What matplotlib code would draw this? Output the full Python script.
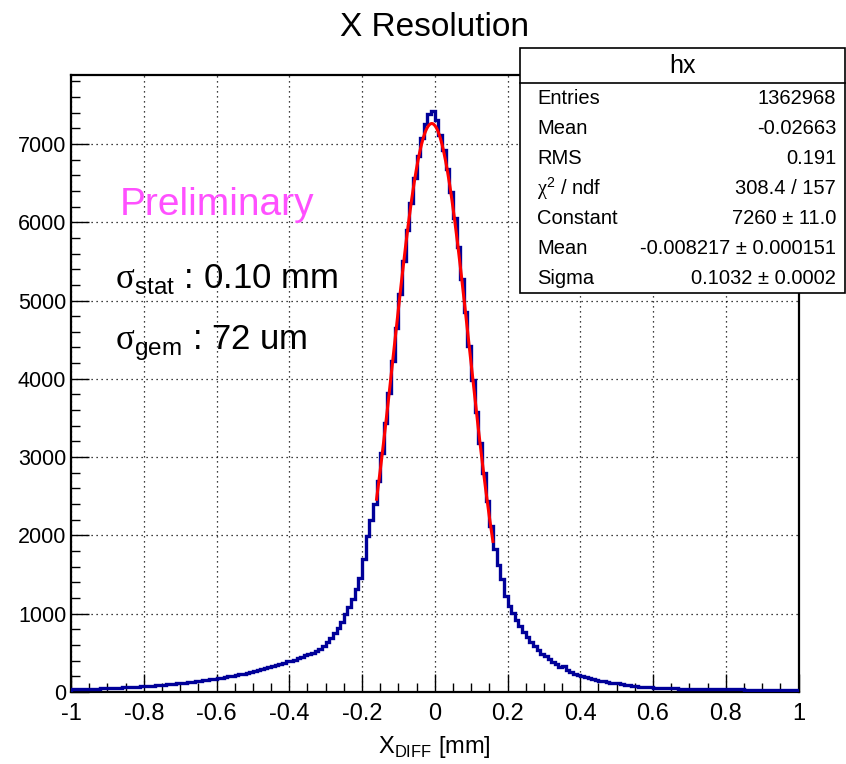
import numpy as np
import matplotlib
matplotlib.use("Agg")
import matplotlib.pyplot as plt
from matplotlib.ticker import MultipleLocator, FuncFormatter
from matplotlib.patches import Rectangle
from matplotlib.lines import Line2D

plt.rcParams['font.family'] = ['Liberation Sans', 'DejaVu Sans']
plt.rcParams['mathtext.fontset'] = 'custom'
plt.rcParams['mathtext.rm'] = 'Liberation Serif'
plt.rcParams['mathtext.sf'] = 'Liberation Sans'

# histogram hx, 0.01 wide bins from -1 to 1
x_lo, x_hi, n_bins = -1.0, 1.0, 200
counts = [
    32, 34, 35, 37, 38, 40, 42, 43, 45, 47,
    49, 51, 53, 56, 58, 61, 64, 67, 70, 73,
    76, 79, 82, 86, 90, 93, 97, 101, 106, 110,
    115, 120, 125, 130, 135, 141, 147, 153, 160, 167,
    175, 182, 190, 198, 206, 215, 224, 234, 245, 256,
    268, 280, 292, 305, 318, 330, 343, 357, 372, 400,
    395, 415, 432, 452, 475, 482, 500, 525, 555, 590,
    640, 690, 750, 820, 900, 990, 1080, 1190, 1310, 1450,
    1700, 1990, 2200, 2400, 2700, 3050, 3430, 3820, 4230, 4650,
    5080, 5500, 5900, 6250, 6570, 6850, 7080, 7250, 7380, 7420,
    7300, 7120, 6920, 6680, 6380, 6050, 5680, 5280, 4850, 4420,
    3990, 3580, 3180, 2800, 2440, 2120, 1830, 1620, 1440, 1230,
    1100, 1010, 920, 840, 770, 700, 640, 585, 535, 490,
    455, 420, 385, 355, 325, 330, 280, 255, 235, 215,
    200, 188, 176, 172, 155, 145, 136, 127, 118, 110,
    118, 96, 90, 84, 78, 73, 69, 65, 62, 59,
    56, 54, 52, 50, 48, 47, 45, 44, 43, 42,
    41, 40, 39, 38, 37, 37, 36, 35, 35, 34,
    34, 33, 33, 32, 32, 31, 31, 30, 30, 30,
    29, 29, 29, 28, 28, 28, 27, 27, 27, 26,
]

# gaus fit result
fit_const, fit_mean, fit_sigma = 7260, -0.008217, 0.1032
fit_lo, fit_hi = -0.16, 0.16

stat_name = 'hx'
stat_labels = ['Entries', 'Mean', 'RMS', r'$\mathrm{\chi}^{\mathsf{2}}$ / ndf',
               'Constant', 'Mean', 'Sigma']
stat_values = ['1362968', '-0.02663', '0.191', '308.4 / 157',
               '7260 ± 11.0', '-0.008217 ± 0.000151', '0.1032 ± 0.0002']

W, H = 846, 764
fig = plt.figure(figsize=(W / 100, H / 100), dpi=100)
ax = fig.add_axes([71 / W, 1 - 692 / H, (798.5 - 71) / W, (692 - 75) / H])

edges = np.linspace(x_lo, x_hi, n_bins + 1)
ax.stairs(counts, edges, color='#000099', lw=2.4, zorder=3)

xf = np.linspace(fit_lo, fit_hi, 200)
ax.plot(xf, fit_const * np.exp(-0.5 * ((xf - fit_mean) / fit_sigma) ** 2),
        color='#ff0000', lw=2.2, zorder=4)

ax.set_xlim(x_lo, x_hi)
ax.set_ylim(0, 7880)
ax.xaxis.set_major_locator(MultipleLocator(0.2))
ax.xaxis.set_minor_locator(MultipleLocator(0.05))
ax.yaxis.set_major_locator(MultipleLocator(1000))
ax.yaxis.set_minor_locator(MultipleLocator(200))
ax.xaxis.set_major_formatter(FuncFormatter(lambda v, p: f'{v:g}' if abs(v) > 1e-9 else '0'))
ax.yaxis.set_major_formatter(FuncFormatter(lambda v, p: f'{v:.0f}'))
ax.tick_params(which='both', direction='in', top=False, right=False, width=1, colors='black')
ax.tick_params(which='major', length=13)
ax.tick_params(which='minor', length=6.5)
ax.tick_params(axis='x', which='major', labelsize=17, pad=8)
ax.tick_params(axis='y', which='major', labelsize=15.5, pad=3.5)
ax.grid(True, which='major', ls=(0, (1, 3)), color='black', lw=0.9)
for s in ax.spines.values():
    s.set_linewidth(1.6)
ax.set_axisbelow(True)

ax.set_xlabel(r'X$_{\mathsf{DIFF}}$ [mm]', fontsize=17, labelpad=6.5)

fig.text(434.5 / W, 1 - 27 / H, 'X Resolution', ha='center', va='center', fontsize=24)

fig.text(120 / W, 1 - 205 / H, 'Preliminary', color='#ff50ff', fontsize=28, va='center')
fig.text(115 / W, 1 - 288 / H, r'$\mathrm{\sigma}_{\mathsf{stat}}$ : 0.10 mm', fontsize=25, va='baseline')
fig.text(115 / W, 1 - 350 / H, r'$\mathrm{\sigma}_{\mathsf{gem}}$ : 72 um', fontsize=25, va='baseline')

# stats box
bx0, bx1, by0, by1 = 520, 845, 48, 293
fig.add_artist(Rectangle((bx0 / W, 1 - by1 / H), (bx1 - bx0) / W, (by1 - by0) / H,
                         transform=fig.transFigure, facecolor='white', edgecolor='black', lw=1.2, zorder=5))
fig.add_artist(Line2D([bx0 / W, bx1 / W], [1 - 83 / H, 1 - 83 / H], transform=fig.transFigure,
                      color='black', lw=1.2, zorder=6))
fig.text((bx0 + bx1) / 2 / W, 1 - 66 / H, stat_name, ha='center', va='center', fontsize=18, zorder=7)
for i, (lab, val) in enumerate(zip(stat_labels, stat_values)):
    yy = 1 - (99 + 30 * i) / H
    fig.text(537 / W, yy, lab, ha='left', va='center', fontsize=14.5, zorder=7)
    fig.text(836 / W, yy, val, ha='right', va='center', fontsize=14.5, zorder=7)

fig.savefig('out.png', dpi=100)
